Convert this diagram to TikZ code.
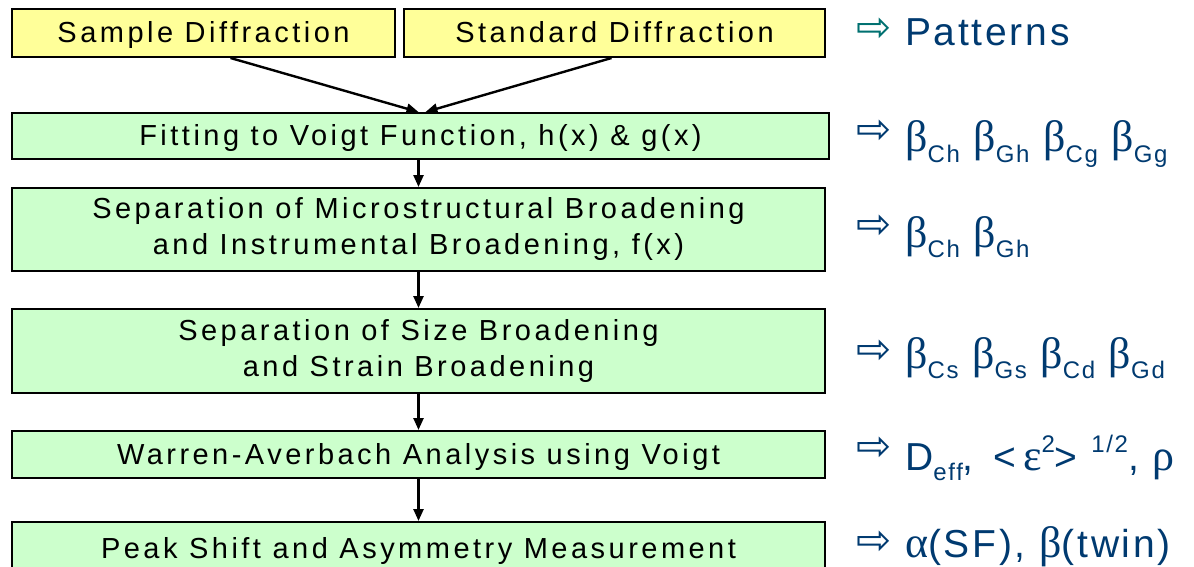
\documentclass[tikz,border=0pt]{standalone}
\usepackage{fontspec}
\setmainfont{Liberation Sans}
\newfontfamily\boxfont[LetterSpace=12]{Liberation Sans}
\newfontfamily\rfont[LetterSpace=7]{Liberation Sans}
\newfontfamily\grfont{Liberation Serif}
\newfontfamily\arrfont{DejaVu Sans}
\usetikzlibrary{arrows.meta,calc}
\definecolor{yfill}{HTML}{FFFF99}
\definecolor{gfill}{HTML}{CCFFCC}
\definecolor{navy}{HTML}{003A70}
\definecolor{tealarr}{HTML}{007070}
\newcommand{\bsub}[1]{\raisebox{-0.26em}{\fontsize{24}{24}\selectfont #1}}
\newcommand{\bsup}[1]{\raisebox{0.45em}{\fontsize{24}{24}\selectfont #1}}
\newcommand{\gr}[1]{{\grfont\fontsize{44}{44}\selectfont #1}}
\begin{document}
\begin{tikzpicture}[x=1pt,y=-1pt,
  boxbase/.style={draw=black, line width=2pt, inner sep=0pt, align=center,
    font=\boxfont\fontsize{29}{36}\selectfont},
  oneline/.style={text height=20pt, text depth=0pt},
  yellowbox/.style={boxbase, oneline, fill=yfill},
  greenbox/.style={boxbase, fill=gfill},
  conn/.style={line width=2.4pt, -{Triangle[length=12pt,width=10pt]}},
  res/.style={text=navy, font=\rfont\fontsize{39}{39}\selectfont, anchor=base west, inner sep=0pt},
  arr/.style={text=navy, font=\arrfont\fontsize{42}{42}\selectfont, anchor=west, inner sep=0pt}]
\useasboundingbox (0,0) rectangle (1194,567);
\node[yellowbox, minimum width=383pt, minimum height=48pt] (s) at (203.5,33) {Sample Diffraction};
\node[yellowbox, minimum width=421pt, minimum height=48pt] (d) at (614.5,33) {Standard Diffraction};
\node[greenbox, oneline, minimum width=817pt, minimum height=46pt] (g1) at (420.5,136) {Fitting to Voigt Function, h(x) \& g(x)};
\node[greenbox, minimum width=813pt, minimum height=83pt] (g2) at (418.5,229.5) {Separation of Microstructural Broadening\\and Instrumental Broadening, f(x)};
\node[greenbox, minimum width=813pt, minimum height=84pt] (g3) at (418.5,351) {Separation of Size Broadening\\and Strain Broadening};
\node[greenbox, oneline, minimum width=813pt, minimum height=47pt] (g4) at (418.5,454.5) {Warren-Averbach Analysis using Voigt};
\node[greenbox, oneline, minimum width=813pt, minimum height=52pt] (g5) at (418.5,548) {Peak Shift and Asymmetry Measurement};

\draw[conn] ([xshift=27pt]s.south) -- ([xshift=-2pt]g1.north);
\draw[conn] ([xshift=-3pt]d.south) -- ([xshift=5pt]g1.north);
\draw[conn] (g2.north |- g1.south) -- (g2.north);
\draw[conn] (g2.south) -- (g3.north);
\draw[conn] (g3.south) -- (g4.north);
\draw[conn] (g4.south) -- (g5.north);

\node[arr, text=tealarr] (a0) at (856,30) {⇨};
\node[res] (r0) at (905,46) {Patterns};
\node[arr] (a1) at (856,132) {⇨};
\node[res] (r1) at (905,152) {\gr{β}\bsub{Ch} \gr{β}\bsub{Gh} \gr{β}\bsub{Cg} \gr{β}\bsub{Gg}};
\node[arr] (a2) at (856,227) {⇨};
\node[res] (r2) at (905,247) {\gr{β}\bsub{Ch} \gr{β}\bsub{Gh}};
\node[arr] (a3) at (856,352) {⇨};
\node[res] (r3) at (905,368) {\gr{β}\bsub{Cs} \gr{β}\bsub{Gs} \gr{β}\bsub{Cd} \gr{β}\bsub{Gd}};
\node[arr] (a4) at (856,449) {⇨};
\node[res] (r4) at (905,470) {D\bsub{eff}, \,<\,\gr{ε}\bsup{2}> \bsup{1/2}, \gr{ρ}};
\node[arr] (a5) at (856,543) {⇨};
\node[res] (r5) at (905,557) {\gr{α}(SF), \gr{β}(twin)};
\end{tikzpicture}
\end{document}
